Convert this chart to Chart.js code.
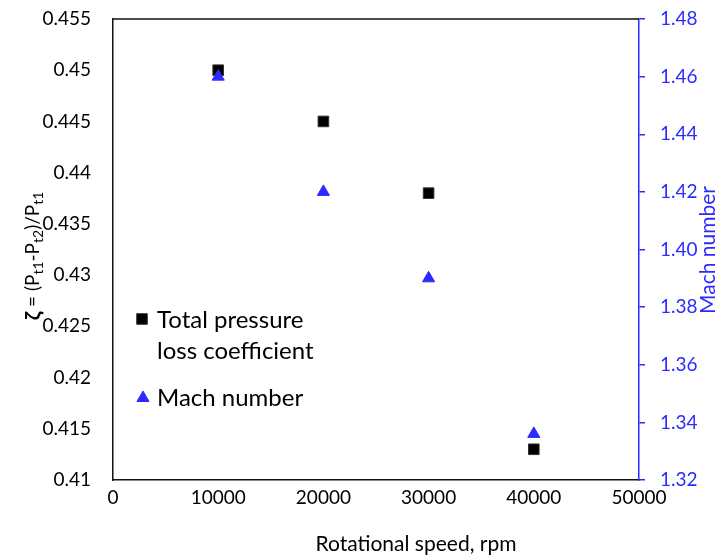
<!DOCTYPE html>
<html>
<head>
<meta charset="utf-8">
<script src="https://cdn.jsdelivr.net/npm/chart.js@4.4.0/dist/chart.umd.min.js"></script>
<style>
  html, body { margin: 0; padding: 0; background: #fff; }
  #wrap { width: 717px; height: 560px; position: relative; }
  canvas { display: block; }
</style>
</head>
<body>
<div id="wrap"><canvas id="lossChart" width="717" height="560"></canvas></div>
<script>
// --- data ---
const rpm = [10000, 20000, 30000, 40000];
const lossCoef = [0.45, 0.445, 0.438, 0.413];
const machNumber = [1.46, 1.42, 1.39, 1.336];

const xTicks = [0, 10000, 20000, 30000, 40000, 50000];
const lossTicks = [0.41, 0.415, 0.42, 0.425, 0.43, 0.435, 0.44, 0.445, 0.45, 0.455];
const machTicks = [1.32, 1.34, 1.36, 1.38, 1.40, 1.42, 1.44, 1.46, 1.48];

const BLUE = '#2B2BFF';
const FONT = 'Lato, "DejaVu Sans", sans-serif';
const TICK_FONT = { family: FONT, size: 19 };

// the axis titles and the in-plot legend are painted by hand
// (subscripts, rotated right title, two-line legend entry)
const decorations = {
  id: 'decorations',
  afterDraw(chart) {
    const ctx = chart.ctx;
    const a = chart.chartArea;
    ctx.save();

    // top frame line
    ctx.strokeStyle = '#111';
    ctx.lineWidth = 1.5;
    ctx.beginPath();
    ctx.moveTo(a.left, a.top);
    ctx.lineTo(a.right, a.top);
    ctx.stroke();

    // x title
    ctx.fillStyle = '#000';
    ctx.font = '21px ' + FONT;
    ctx.textAlign = 'center';
    ctx.textBaseline = 'middle';
    ctx.fillText('Rotational speed, rpm', 416, 544);

    // right title, reads bottom to top
    ctx.save();
    ctx.translate(708, 250);
    ctx.rotate(-Math.PI / 2);
    ctx.fillStyle = BLUE;
    ctx.font = '21px ' + FONT;
    ctx.fillText('Mach number', 0, 0);
    ctx.restore();

    // left title with subscripts
    const parts = [
      { t: 'ζ', f: 'bold 21px ' + FONT, dy: 0 },
      { t: ' = (P', f: '19px ' + FONT, dy: 0 },
      { t: 't1', f: '14px ' + FONT, dy: 5 },
      { t: '-P', f: '19px ' + FONT, dy: 0 },
      { t: 't2', f: '14px ' + FONT, dy: 5 },
      { t: ')/P', f: '19px ' + FONT, dy: 0 },
      { t: 't1', f: '14px ' + FONT, dy: 5 }
    ];
    let total = 0;
    parts.forEach(p => { ctx.font = p.f; p.w = ctx.measureText(p.t).width; total += p.w; });
    ctx.save();
    ctx.translate(33, 256);
    ctx.rotate(-Math.PI / 2);
    ctx.textAlign = 'left';
    ctx.fillStyle = '#000';
    let x = -total / 2;
    parts.forEach(p => {
      ctx.font = p.f;
      ctx.fillText(p.t, x, p.dy);
      x += p.w;
    });
    ctx.restore();

    // legend inside the plot
    const lx = a.left + 29;
    const ly = a.top + 300;
    ctx.font = '24px ' + FONT;
    ctx.textAlign = 'left';
    ctx.textBaseline = 'middle';
    ctx.fillStyle = '#000';
    ctx.strokeStyle = '#333';
    ctx.lineWidth = 1;
    Chart.helpers.drawPoint(ctx, { pointStyle: 'rect', radius: 7.5, borderWidth: 1 }, lx, ly);
    ctx.fillText('Total pressure', lx + 15, ly + 1);
    ctx.fillText('loss coefficient', lx + 15, ly + 32);
    ctx.fillStyle = BLUE;
    ctx.strokeStyle = BLUE;
    Chart.helpers.drawPoint(ctx, { pointStyle: 'triangle', radius: 7, borderWidth: 1 }, lx + 1, ly + 79);
    ctx.fillStyle = '#000';
    ctx.fillText('Mach number', lx + 15, ly + 79);

    ctx.restore();
  }
};

// fixed box sizes so the plot area lands at 113..639 x 19..480
const fitY = w => s => { s.width = w; s.paddingTop = 0; s.paddingBottom = 0; };

const ctx = document.getElementById('lossChart').getContext('2d');

new Chart(ctx, {
  type: 'scatter',
  data: {
    datasets: [
      {
        label: 'Mach number',
        data: rpm.map((r, i) => ({ x: r, y: machNumber[i] })),
        yAxisID: 'yMach',
        pointStyle: 'triangle',
        pointRadius: 7,
        backgroundColor: BLUE,
        borderColor: BLUE,
        borderWidth: 1,
        order: 0
      },
      {
        label: 'Total pressure loss coefficient',
        data: rpm.map((r, i) => ({ x: r, y: lossCoef[i] })),
        yAxisID: 'yLoss',
        pointStyle: 'rect',
        pointRadius: 7.5,
        backgroundColor: '#000',
        borderColor: '#333',
        borderWidth: 1,
        order: 1
      }
    ]
  },
  options: {
    responsive: false,
    animation: false,
    events: [],
    layout: { padding: { top: 19, left: 0, right: 0, bottom: 0 } },
    plugins: {
      legend: { display: false },
      tooltip: { enabled: false }
    },
    scales: {
      x: {
        type: 'linear',
        min: xTicks[0],
        max: xTicks[xTicks.length - 1],
        afterBuildTicks: s => { s.ticks = xTicks.map(v => ({ value: v })); },
        afterFit: s => { s.height = 80; s.paddingLeft = 0; s.paddingRight = 0; },
        grid: { display: false, drawTicks: false },
        border: { display: true, color: '#111', width: 1.5 },
        ticks: {
          color: '#000',
          font: TICK_FONT,
          padding: 6,
          maxRotation: 0,
          callback: v => String(v)
        }
      },
      yLoss: {
        type: 'linear',
        position: 'left',
        min: lossTicks[0],
        max: lossTicks[lossTicks.length - 1],
        afterBuildTicks: s => { s.ticks = lossTicks.map(v => ({ value: v })); },
        afterFit: fitY(113),
        grid: { display: false, drawTicks: false },
        border: { display: true, color: '#111', width: 1.5 },
        ticks: {
          color: '#000',
          font: TICK_FONT,
          padding: 22,
          callback: v => String(parseFloat(v.toFixed(3)))
        }
      },
      yMach: {
        type: 'linear',
        position: 'right',
        min: machTicks[0],
        max: machTicks[machTicks.length - 1],
        afterBuildTicks: s => { s.ticks = machTicks.map(v => ({ value: v })); },
        afterFit: fitY(78),
        grid: { display: true, drawOnChartArea: false, drawTicks: true, tickLength: 6, color: BLUE, lineWidth: 1.5 },
        border: { display: true, color: BLUE, width: 1.5 },
        ticks: {
          color: BLUE,
          font: TICK_FONT,
          padding: 15,
          callback: v => v.toFixed(2)
        }
      }
    }
  },
  plugins: [decorations]
});
</script>
</body>
</html>
